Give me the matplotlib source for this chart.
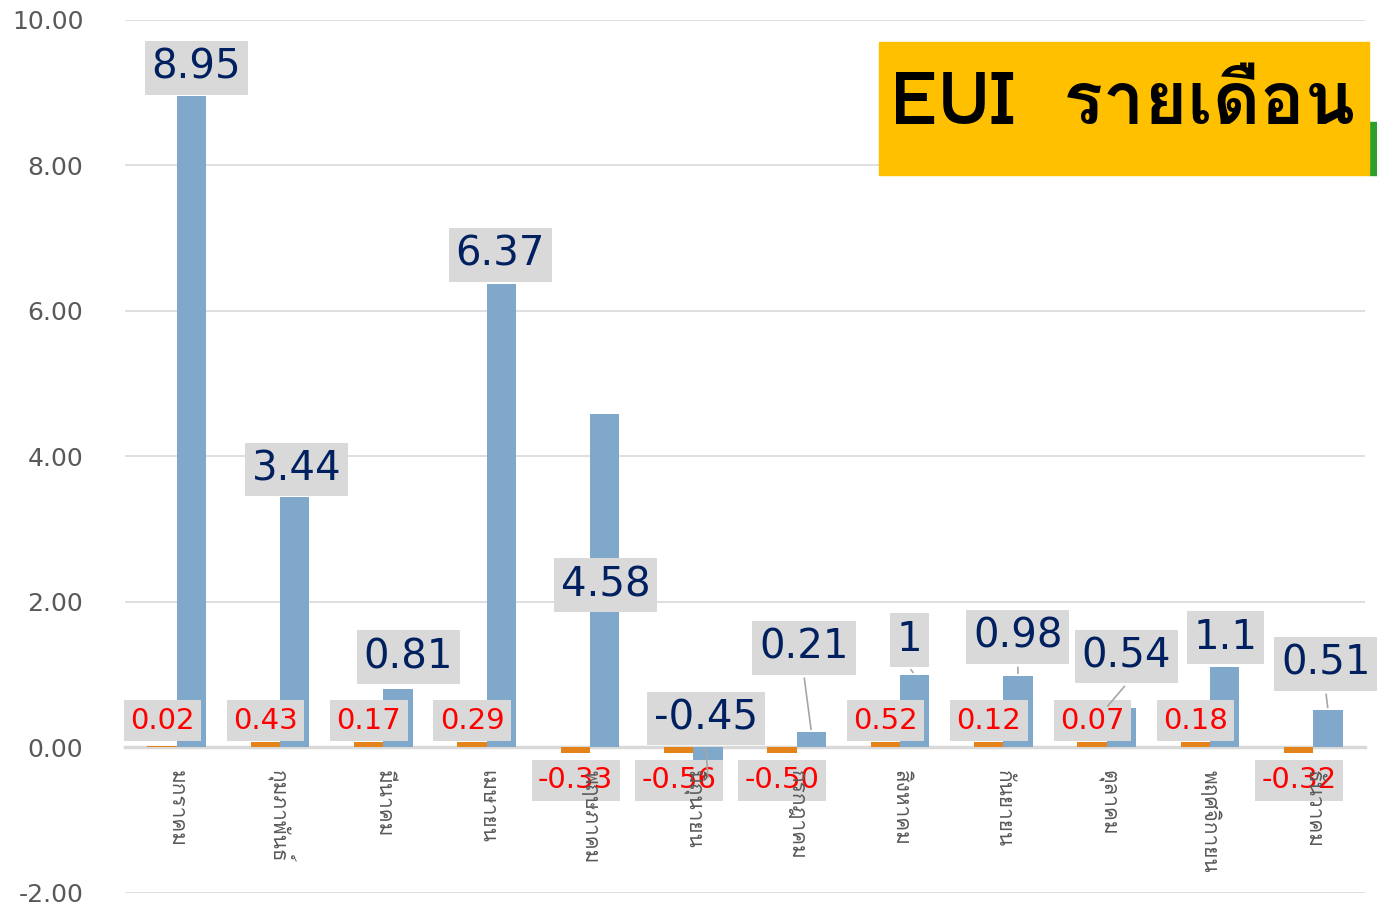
import numpy as np
import matplotlib
matplotlib.use('Agg')
import matplotlib.pyplot as plt
from matplotlib import font_manager, ft2font
from matplotlib.patches import Rectangle

months = ['มกราคม', 'กุมภาพันธ์', 'มีนาคม', 'เมษายน', 'พฤษภาคม', 'มิถุนายน',
          'กรกฎาคม', 'สิงหาคม', 'กันยายน', 'ตุลาคม', 'พฤศจิกายน', 'ธันวาคม']
blue_values = [8.95, 3.44, 0.81, 6.37, 4.58, -0.45, 0.21, 1.0, 0.98, 0.54, 1.1, 0.51]
blue_labels = ['8.95', '3.44', '0.81', '6.37', '4.58', '-0.45', '0.21', '1', '0.98', '0.54', '1.1', '0.51']
orange_heights = [0.02, 0.07, 0.07, 0.07, -0.07, -0.07, -0.07, 0.07, 0.07, 0.07, 0.07, -0.07]
orange_labels = ['0.02', '0.43', '0.17', '0.29', '-0.33', '-0.56', '-0.50', '0.52', '0.12', '0.07', '0.18', '-0.32']
yticks = [-2, 0, 2, 4, 6, 8, 10]

# label placement (data coords)
blue_lab_x = [0.19, 1.16, 2.24, 3.13, 4.15, 5.12, 6.07, 7.09, 8.14, 9.19, 10.15, 11.12]
blue_lab_y = [9.34, 3.82, 1.24, 6.77, 2.23, 0.40, 1.37, 1.48, 1.52, 1.25, 1.51, 1.15]
leaders = [5, 6, 7, 8, 9, 11]


def thai_font():
    for f in font_manager.fontManager.ttflist:
        try:
            if 0x0E01 in ft2font.FT2Font(f.fname).get_charmap():
                return f.name
        except Exception:
            pass
    return 'DejaVu Sans'

thai = thai_font()
fams = [thai, 'DejaVu Sans'] if thai != 'DejaVu Sans' else ['DejaVu Sans']

blue = '#7fa8cb'
orange = '#e3831a'
navy = '#002060'

fig = plt.figure(figsize=(13.77, 9.06), dpi=100)
ax = fig.add_axes([0.0908, 0.0144, 0.9005, 0.9636])
x = np.arange(len(months))
w = 0.285
ax.bar(x - w / 2, orange_heights, w, color=orange, zorder=2)
ax.bar(x + w / 2, blue_values, w, color=blue, zorder=2)

ax.set_xlim(-0.5, 11.5)
ax.set_ylim(-2, 10)
ax.set_yticks(yticks)
ax.set_yticklabels([f'{v:.2f}' for v in yticks], fontsize=18, color='#595959')
ax.tick_params(axis='y', length=0, pad=30)
ax.grid(axis='y', color='#d9d9d9', lw=1.2, zorder=0)
for s in ['top', 'right', 'left']:
    ax.spines[s].set_visible(False)
ax.spines['bottom'].set_position(('data', 0))
ax.spines['bottom'].set_color('#d9d9d9')
ax.spines['bottom'].set_linewidth(2.5)
ax.spines['bottom'].set_zorder(1.5)
ax.set_xticks(x)
ax.set_xticklabels(months, rotation=270, fontsize=15, color='#595959', family=fams, va='top', ha='center')
ax.tick_params(axis='x', length=0, pad=16)
ax.xaxis.set_zorder(8)  # month names sit on top of the red label boxes

for i in range(len(months)):
    lx, ly = blue_lab_x[i], blue_lab_y[i]
    if i in leaders:
        ax.annotate('', xy=(x[i] + w / 2 - (0.15 if i == 9 else 0.0), blue_values[i]),
                    xytext=(lx, ly - 0.38),
                    arrowprops=dict(arrowstyle='-', color='#a6a6a6', lw=1.2), zorder=7)
    ax.text(lx, ly, blue_labels[i], fontsize=29, color=navy, ha='center', va='center',
            bbox=dict(boxstyle='square,pad=0.17', fc='#d9d9d9', ec='none'), zorder=5)
    oy = 0.37 if orange_heights[i] > 0 else -0.45
    ax.text(x[i] - 0.14, oy, orange_labels[i], fontsize=21, color='#ff0000', ha='center', va='center',
            bbox=dict(boxstyle='square,pad=0.22', fc='#d9d9d9', ec='none'), zorder=6)

# title box
fig.patches.append(Rectangle((1369 / 1377, (906 - 175) / 906), 8 / 1377, 53 / 906,
                             transform=fig.transFigure, color='#2ca02c', zorder=1))
fig.patches.append(Rectangle((879 / 1377, (906 - 175) / 906), 490 / 1377, 133 / 906,
                             transform=fig.transFigure, color='#ffc000', zorder=2))
fig.text(1122 / 1377, (906 - 105) / 906, 'EUI  รายเดือน', fontsize=53, fontweight='bold',
         family=fams, ha='center', va='center', color='black', zorder=3)

fig.savefig('out.png', dpi=100)
